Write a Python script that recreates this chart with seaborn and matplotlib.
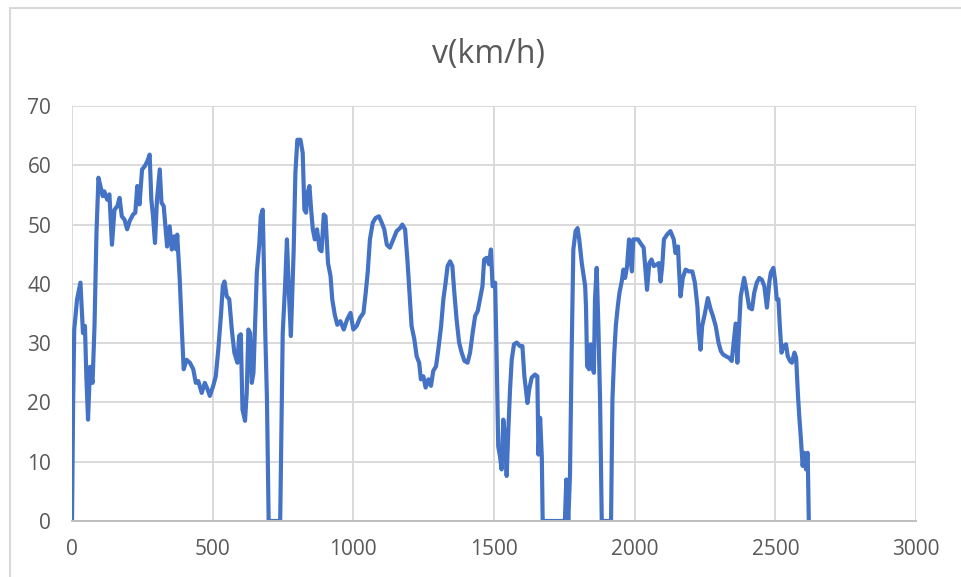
import numpy as np
import pandas as pd
import seaborn as sns
import matplotlib.pyplot as plt
from matplotlib.lines import Line2D

# time (s) and speed (km/h)
t_s = [0, 4, 8, 18, 30, 39, 46, 51, 57, 64, 73, 80, 87, 94, 104, 109, 115, 125, 133, 142,
       151, 161, 169, 177, 187, 196, 205, 217, 225, 232, 240, 249, 258, 268, 276, 282, 288,
       295, 302, 312, 318, 326, 338, 347, 355, 363, 371, 374, 383, 391, 397, 407, 419, 431,
       440, 449, 461, 472, 482, 490, 502, 511, 520, 530, 536, 542, 550, 559, 568, 577, 588,
       594, 600, 606, 615, 621, 627, 633, 639, 645, 657, 666, 671, 678, 687, 693, 699, 740,
       749, 758, 764, 770, 778, 788, 794, 801, 812, 820, 826, 832, 837, 844, 850, 856, 863,
       871, 880, 887, 895, 901, 910, 919, 925, 934, 943, 954, 966, 978, 990,
       1000, 1012, 1024, 1036, 1044, 1051, 1059, 1069, 1079, 1091, 1101, 1110, 1119, 1130,
       1142, 1154, 1166, 1174, 1184, 1193, 1201, 1207, 1217, 1225, 1234, 1240, 1249, 1257,
       1267, 1276, 1284, 1294, 1302, 1312, 1320, 1328, 1335, 1344, 1352, 1359, 1367, 1376,
       1385, 1395, 1406, 1415, 1424, 1433, 1442, 1450, 1459, 1465, 1474, 1482, 1489, 1495,
       1504, 1510, 1515, 1521, 1527, 1533, 1539, 1545, 1551, 1557, 1563, 1571, 1581, 1592,
       1601, 1608, 1619, 1625, 1634, 1646, 1654, 1658, 1664, 1670, 1673, 1752, 1757, 1764,
       1770, 1776, 1782, 1790, 1797, 1803, 1812, 1824, 1827, 1831, 1838, 1844, 1850, 1855,
       1859, 1865, 1871, 1877, 1883, 1916, 1921, 1927, 1933, 1940, 1946, 1954, 1960, 1966,
       1973, 1980, 1990, 1995,
       2002, 2012, 2020, 2032, 2044, 2052, 2060, 2068, 2080, 2086, 2092, 2098, 2104, 2115,
       2127, 2139, 2145, 2154, 2157, 2163, 2171, 2181, 2193, 2205, 2214, 2223, 2228, 2234,
       2240, 2250, 2260, 2270, 2278, 2288, 2298, 2306, 2314, 2324, 2336, 2345, 2353, 2359,
       2365, 2371, 2377, 2389, 2397, 2407, 2417, 2425, 2434, 2443, 2452, 2461, 2470, 2479,
       2484, 2493, 2499, 2505, 2511, 2516, 2522, 2530, 2538, 2544, 2552, 2559, 2568, 2574,
       2580, 2585, 2591, 2597, 2603, 2609, 2615, 2619]

v_kmh = [0, 20, 32.3, 37.4, 40.2, 31.7, 32.9, 24.4, 17.1, 26, 23.3, 32.9, 48.6, 57.9, 55.9,
         54.8, 55.6, 54.2, 55.1, 46.6, 52.5, 53.1, 54.5, 51.4, 50.8, 49.2, 50.6, 51.7, 52,
         56.5, 53.4, 59.3, 59.8, 60.7, 61.8, 54.2, 51.4, 46.9, 54.2, 59.3, 53.7, 53.1, 46.3,
         49.7, 45.8, 48, 45.8, 48.3, 40.7, 31.7, 25.6, 27.2, 26.7, 25.6, 23.3, 23.6, 21.6,
         23.3, 22.2, 21.1, 22.8, 24.4, 28.9, 35.1, 39.6, 40.4, 37.9, 37.4, 32.3, 28.4, 26.7,
         31.2, 31.5, 18.8, 16.9, 21.6, 32.3, 31.7, 23.3, 25, 41.9, 46.9, 51.4, 52.5, 31.7,
         20.5, 0, 0, 31.7, 40.2, 47.5, 39.6, 31.2, 45.8, 58.7, 64.3, 64.3, 62.1, 52.5, 52,
         55.3, 56.5, 52.5, 49.2, 47.5, 49.2, 45.8, 45.5, 51.7, 51.4, 43.5, 41.3, 37.4, 34.8,
         33.1, 33.7, 32.3, 34, 35.1,
         32.3, 32.9, 34.3, 35.1, 38.5, 41.9, 47.5, 50.3, 51.1, 51.4, 50.3, 49.2, 46.6, 46.1,
         47.5, 48.9, 49.4, 50, 49.2, 43.5, 37.4, 32.9, 30.6, 27.8, 26.7, 23.9, 24.4, 22.5,
         23.9, 22.8, 25.3, 26.1, 28.9, 32.9, 37.4, 40.2, 43, 43.8, 43, 38.5, 34, 30.1,
         28.4, 27, 26.7, 28.4, 31.7, 34.6, 35.4, 37.4, 39.6, 44.1, 44.4, 43.3, 45.8, 39.6,
         40.2, 26.1, 12.6, 11, 8.7, 17.1, 14.3, 7.6, 15.4, 22.2, 27.2, 29.8, 30.1, 29.5,
         29.5, 24.4, 19.9, 22.2, 24.2, 24.7, 24.4, 11.2, 17.4, 10.7, 0, 0, 7, 0,
         7.6, 28.4, 45.8, 48.9, 49.4, 47.5, 43.5, 39.6, 36.2, 26.1, 25.6, 29.8, 26.1, 25,
         37.4, 42.7, 32.9, 20.5, 0, 0, 20.5, 27.8, 32.9, 36.2, 38.5, 40.4, 42.4, 41,
         43, 47.5, 42.1, 47.5,
         47.5, 47.5, 46.9, 46.1, 39, 43.5, 44.1, 43, 43.3, 43.5, 40.4, 43, 47.5, 48.3,
         48.9, 47.5, 45.2, 46.3, 43, 37.9, 41, 42.4, 42.1, 42.1, 40.2, 36.2, 31.7, 28.9,
         32.9, 35.1, 37.6, 35.7, 34.6, 32.9, 30.1, 28.7, 28.1, 27.8, 27.5, 27, 30.6, 33.3,
         26.7, 32.3, 37.9, 41, 39, 36, 35.7, 38.5, 40.2, 41, 40.7, 39.6, 36, 40.4,
         41.9, 42.7, 40.7, 37.4, 37.4, 32.9, 28.4, 29.5, 29.8, 27.8, 27, 26.7, 28.4, 27.5,
         21.6, 17.7, 13.8, 9.3, 11.5, 8.7, 11.5, 0]

x_ticks = [0, 500, 1000, 1500, 2000, 2500, 3000]
y_ticks = [0, 10, 20, 30, 40, 50, 60, 70]

df = pd.DataFrame({"t": t_s, "v": v_kmh})

sns.set_style("white")
plt.rcParams['font.family'] = ['Open Sans', 'DejaVu Sans']

fig = plt.figure(figsize=(9.62, 5.77), dpi=100)
ax = fig.add_axes([72 / 962, 1 - 521 / 577, 844 / 962, 415 / 577])

sns.lineplot(data=df, x="t", y="v", ax=ax, color="#4472C4", linewidth=3.0,
             estimator=None, sort=False)

ax.set_xlim(0, 3000)
ax.set_ylim(0, 70)
ax.set_xticks(x_ticks)
ax.set_yticks(y_ticks)
ax.set_xlabel("")
ax.set_ylabel("")
ax.grid(True, color="#D9D9D9", linewidth=1.4)
ax.set_axisbelow(True)
for s in ["top", "right", "left"]:
    ax.spines[s].set_visible(False)
ax.spines["bottom"].set_color("#BFBFBF")
ax.spines["bottom"].set_linewidth(1.4)
ax.tick_params(axis="both", length=0, labelsize=15, labelcolor="#595959")
ax.tick_params(axis="y", pad=15)
ax.tick_params(axis="x", pad=13)

fig.text(489 / 962, 1 - 55 / 577, "v(km/h)", ha="center", va="center",
         fontsize=23, color="#595959")

# outer chart border (only top and left visible in the crop)
fig.add_artist(Line2D([9.5 / 962, 9.5 / 962], [0, 1 - 7.5 / 577],
                      transform=fig.transFigure, color="#D9D9D9", linewidth=1.5))
fig.add_artist(Line2D([9.5 / 962, 1], [1 - 7.5 / 577, 1 - 7.5 / 577],
                      transform=fig.transFigure, color="#D9D9D9", linewidth=1.5))

fig.savefig("out.png", dpi=100)
